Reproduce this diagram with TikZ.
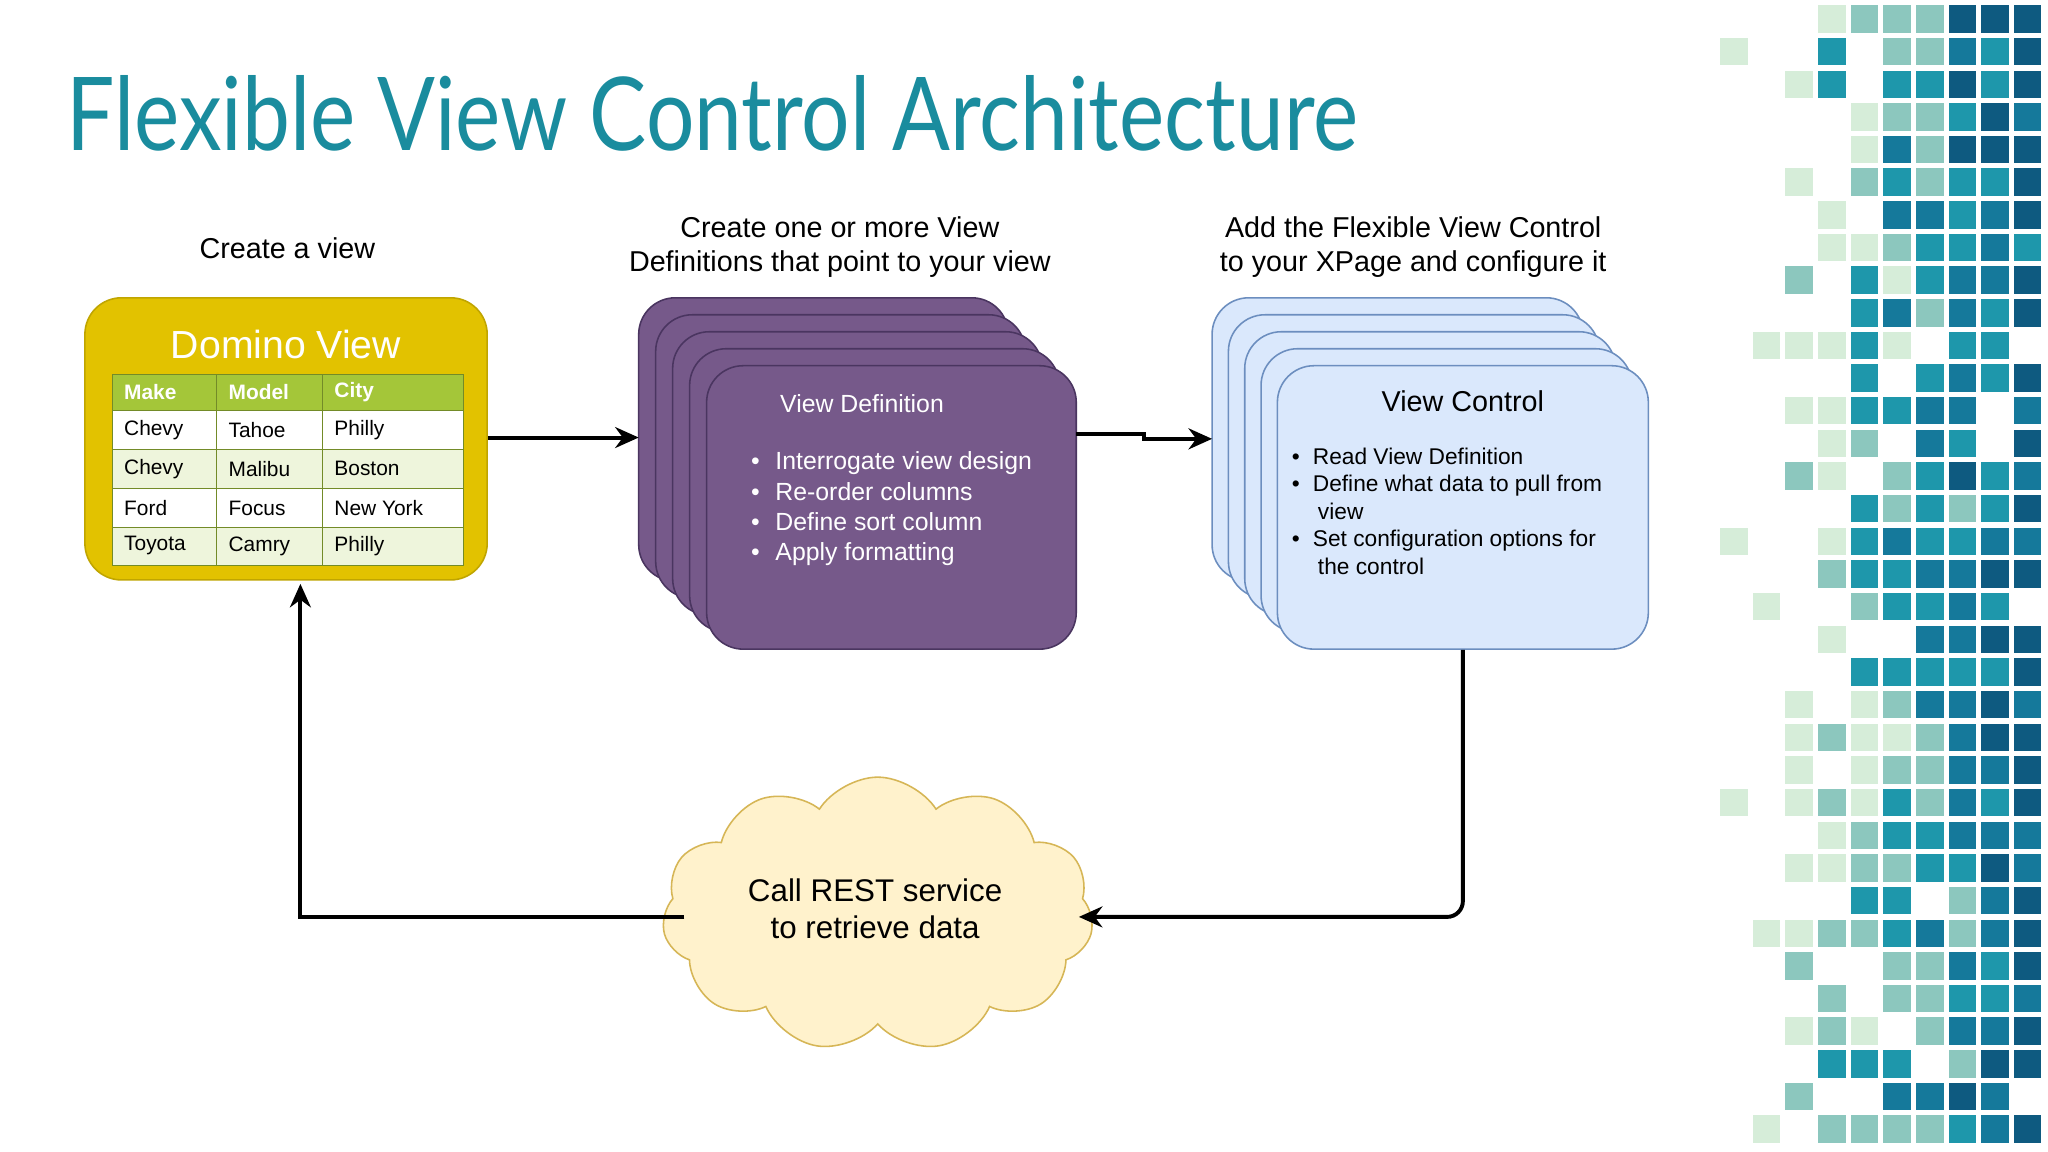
\documentclass[tikz,border=0pt]{standalone}
\usepackage{fontspec}
\setmainfont{Liberation Sans}
\newfontfamily\titlefont{Lato}
\usetikzlibrary{shapes.symbols,arrows.meta}
\definecolor{teal1}{HTML}{1A8C9E}
\definecolor{mos0}{HTML}{D6EDD9}
\definecolor{mos1}{HTML}{8CC7BE}
\definecolor{mos2}{HTML}{1E97AB}
\definecolor{mos3}{HTML}{15799B}
\definecolor{mos4}{HTML}{0E5A80}
\definecolor{dyell}{HTML}{E2C200}
\definecolor{tgreen}{HTML}{A4C639}
\definecolor{trow}{HTML}{EEF5DC}
\definecolor{purp}{HTML}{76598A}
\definecolor{purpd}{HTML}{4A3560}
\definecolor{bfill}{HTML}{DAE8FC}
\definecolor{bline}{HTML}{6C8EBF}
\definecolor{cfill}{HTML}{FFF2CC}
\definecolor{cline}{HTML}{D6B656}
\tikzset{
 purpbox/.style={draw=purpd,fill=purp,rounded corners=14pt,line width=0.6pt},
 bluebox/.style={draw=bline,fill=bfill,rounded corners=14pt,line width=0.6pt},
 conn/.style={line width=1.5pt,-{Stealth[length=9pt,width=8pt]}},
 head/.style={font=\fontsize{11}{13}\selectfont,align=center},
 cell/.style={font=\fontsize{8}{9}\selectfont,anchor=west},
 hcell/.style={font=\fontsize{8}{9}\selectfont\bfseries,anchor=west,text=white},
}
\begin{document}
\begin{tikzpicture}[x=0.5pt,y=-0.5pt]
\useasboundingbox (0,0) rectangle (1568,882);
\fill[white] (0,0) rectangle (1568,882);
% mosaic
\pgfmathsetseed{11}
\foreach \c in {0,...,9}{\foreach \r in {0,...,34}{
 \pgfmathsetmacro\p{rnd}
 \pgfmathsetmacro\th{max(0.03,0.85-0.15*\c)}
 \ifdim\p pt>\th pt
   \pgfmathtruncatemacro\lv{max(0,min(4,round(\c*0.55-1.2+(rnd-0.5)*2.6)))}
   \fill[mos\lv] (1317+25*\c, 4+25*\r) rectangle ++(21,21);
 \fi}}
% title
\node[anchor=west,text=teal1,font=\titlefont\fontsize{39}{44}\selectfont,xscale=0.84] (title) at (45,87) {Flexible View Control Architecture};
% headings
\node[head] (h1) at (220,190) {Create a view};
\node[head] (h2) at (643,189) {Create one or more View\\Definitions that point to your view};
\node[head] (h3) at (1082,189) {Add the Flexible View Control\\to your XPage and configure it};
% Domino view
\node[draw=dyell!85!black,fill=dyell,rounded corners=14pt,minimum width=154pt,minimum height=108pt,line width=0.6pt] (dv) at (219,336) {};
\node[text=white,font=\fontsize{15}{17}\selectfont] (dvt) at (219,264) {Domino View};
\fill[tgreen] (86,287) rectangle (355,314);
\fill[white] (86,314) rectangle (355,344);
\fill[trow] (86,344) rectangle (355,374);
\fill[white] (86,374) rectangle (355,404);
\fill[trow] (86,404) rectangle (355,433);
\draw[tgreen!70!black,line width=0.4pt] (86,287) rectangle (355,433);
\foreach \y in {314,344,374,404}{\draw[tgreen!70!black,line width=0.4pt] (86,\y) -- (355,\y);}
\foreach \x in {166,247}{\draw[tgreen!70!black,line width=0.4pt] (\x,287) -- (\x,433);}
\node[hcell] at (88,300) {Make};\node[hcell] at (168,300) {Model};\node[hcell] at (249,300) {City};
\node[cell] at (88,329) {Chevy};\node[cell] at (168,329) {Tahoe};\node[cell] at (249,329) {Philly};
\node[cell] at (88,359) {Chevy};\node[cell] at (168,359) {Malibu};\node[cell] at (249,359) {Boston};
\node[cell] at (88,389) {Ford};\node[cell] at (168,389) {Focus};\node[cell] at (249,389) {New York};
\node[cell] at (88,418) {Toyota};\node[cell] at (168,418) {Camry};\node[cell] at (249,418) {Philly};
% purple stack
\foreach \i in {4,3,2,1}{\draw[purpbox] (541-13*\i,280-13*\i) rectangle ++(283,217);}
\node[purpbox,minimum width=141.5pt,minimum height=108.5pt] (vd) at (682.5,388.5) {};
\node[text=white,font=\fontsize{9.5}{11}\selectfont] (vdt) at (660,309) {View Definition};
\node[text=white,anchor=north west,align=left,font=\fontsize{9.5}{11.5}\selectfont] (vdl) at (568,339) {%
\textbullet\hspace{6pt}Interrogate view design\\\textbullet\hspace{6pt}Re-order columns\\\textbullet\hspace{6pt}Define sort column\\\textbullet\hspace{6pt}Apply formatting};
% blue stack
\foreach \i in {4,3,2,1}{\draw[bluebox] (978-12.5*\i,280-13*\i) rectangle ++(284,217);}
\node[bluebox,minimum width=142pt,minimum height=108.5pt] (vc) at (1120,388.5) {};
\node[font=\fontsize{11}{13}\selectfont] (vct) at (1120,307) {View Control};
\node[anchor=north west,align=left,font=\fontsize{8.7}{10.5}\selectfont] (vcl) at (982,336) {%
\textbullet\hspace{5pt}Read View Definition\\\textbullet\hspace{5pt}Define what data to pull from\\\hspace{10pt}view\\\textbullet\hspace{5pt}Set configuration options for\\\hspace{10pt}the control};
% cloud
\node[cloud,cloud puffs=11,cloud puff arc=115,aspect=1.5,draw=cline,fill=cfill,minimum width=165pt,minimum height=105pt,line width=0.6pt] (cl) at (672,700) {};
\node[font=\fontsize{12}{14}\selectfont,align=center] (clt) at (670,696) {Call REST service\\to retrieve data};
% connectors
\draw[conn] (dv.east |- 0,335) -- (489,335);
\coordinate (m1) at (876,332);
\draw[conn] (824,332) -- (m1) -- (876,336) -- (928,336);
\draw[conn,rounded corners=6pt] (vc.south) -- (1120,702) -- (826,702);
\draw[conn] (524,702) -- (230,702) -- (230,447);
\end{tikzpicture}
\end{document}
